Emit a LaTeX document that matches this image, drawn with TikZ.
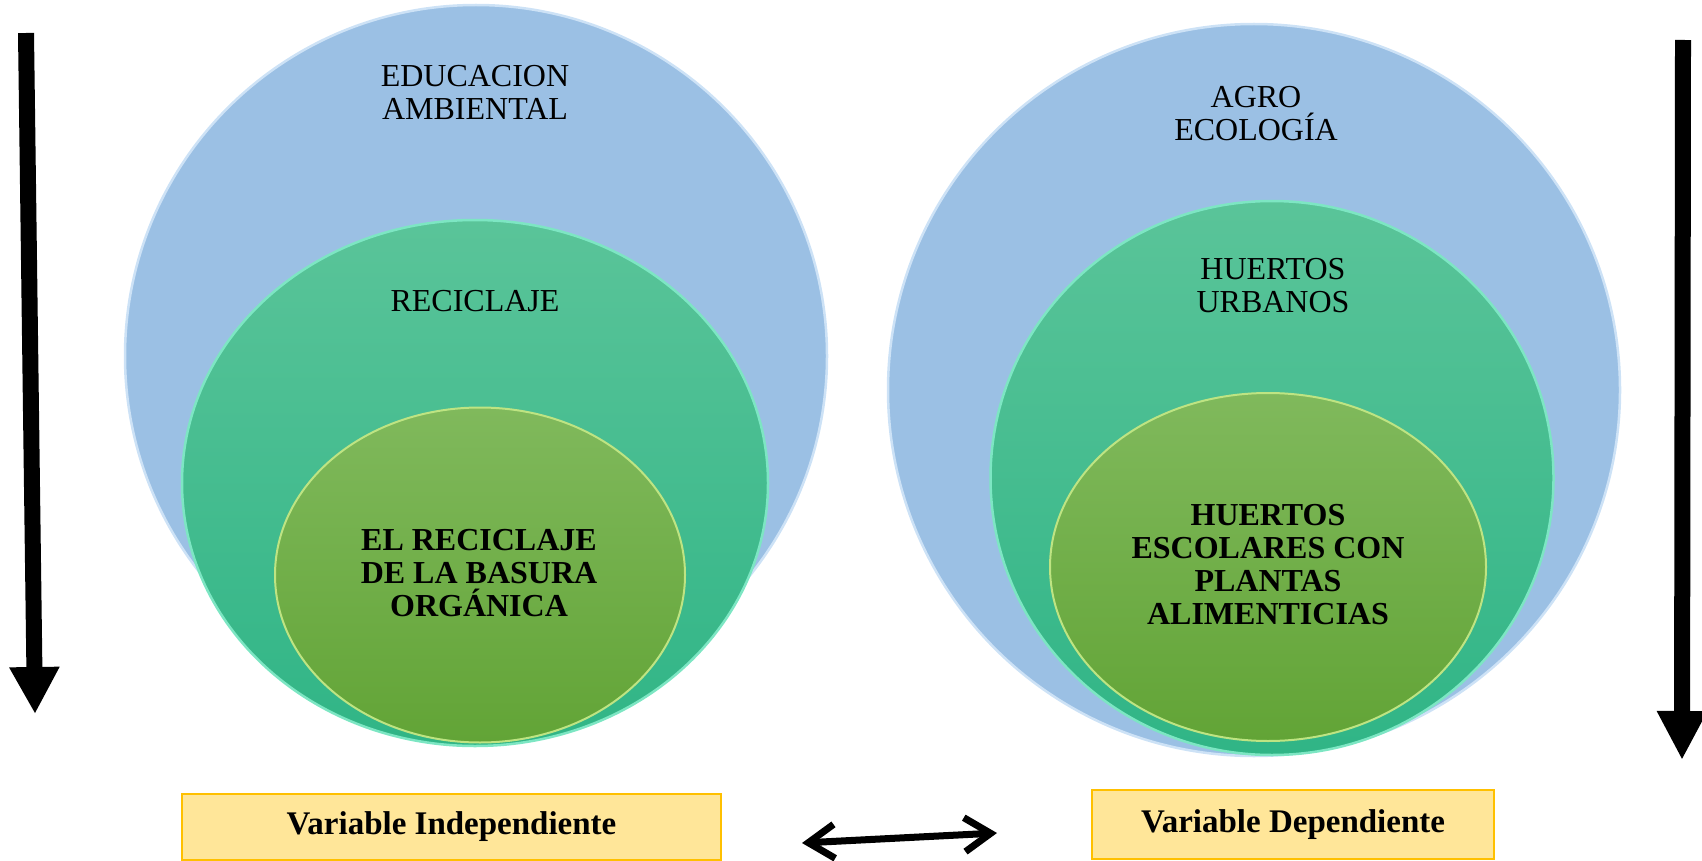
\documentclass[tikz,border=0pt]{standalone}
\usepackage{fontspec}
\setmainfont{Liberation Serif}
\usetikzlibrary{arrows.meta,positioning,shapes.geometric}
\definecolor{outerblue}{RGB}{155,192,228}
\definecolor{outerrim}{RGB}{205,226,246}
\definecolor{midtop}{RGB}{90,196,153}
\definecolor{midbot}{RGB}{48,181,134}
\definecolor{midrim}{RGB}{125,230,195}
\definecolor{intop}{RGB}{128,185,92}
\definecolor{inbot}{RGB}{98,164,54}
\definecolor{inrim}{RGB}{190,228,130}
\definecolor{varfill}{RGB}{255,230,153}
\definecolor{varline}{RGB}{255,192,0}
\tikzset{
  outer/.style={ellipse,inner sep=0pt,fill=outerblue,draw=outerrim,line width=2.5pt},
  middle/.style={ellipse,inner sep=0pt,top color=midtop,bottom color=midbot,draw=midrim,line width=2.5pt},
  inner/.style={ellipse,inner sep=0pt,top color=intop,bottom color=inbot,draw=inrim,line width=2pt},
  lbl/.style={align=center,font=\fontsize{32}{33}\selectfont},
  blbl/.style={align=center,font=\fontsize{32}{33}\selectfont\bfseries},
  varbox/.style={draw=varline,fill=varfill,line width=1.2pt,font=\fontsize{33}{34}\selectfont\bfseries}
}
\begin{document}
\begin{tikzpicture}[x=1pt,y=-1pt,>=Stealth]
\useasboundingbox (0,0) rectangle (1702,861);
% izquierda
\node[outer,minimum width=702pt,minimum height=702pt] (edu) at (476,356) {};
\node[middle,minimum width=586pt,minimum height=526pt] (rec) at (475,483) {};
\node[inner,minimum width=410pt,minimum height=335pt] (bas) at (480,575) {};
\node[lbl] (tedu) at (475,92) {EDUCACION\\AMBIENTAL};
\node[lbl] (trec) at (475,301) {RECICLAJE};
\node[blbl] (tbas) at (479,573) {EL RECICLAJE\\DE LA BASURA\\ORGÁNICA};
% derecha
\node[outer,minimum width=732pt,minimum height=732pt] (agr) at (1254,390) {};
\node[middle,minimum width=563pt,minimum height=554pt] (hur) at (1272,478) {};
\node[inner,minimum width=436pt,minimum height=348pt] (esc) at (1268,567) {};
\node[lbl] (tagr) at (1256,114) {AGRO\\ECOLOGÍA};
\node[lbl] (thur) at (1273,286) {HUERTOS\\URBANOS};
\node[blbl] (tesc) at (1268,565) {HUERTOS\\ESCOLARES CON\\PLANTAS\\ALIMENTICIAS};
% variables
\node[varbox,minimum width=539pt,minimum height=66pt] (vind) at (451.5,827) {Variable Independiente};
\node[varbox,minimum width=402pt,minimum height=69pt] (vdep) at (1293,824.5) {Variable Dependiente};
% flechas
\coordinate (la) at (26,33);
\coordinate (lb) at (35,714);
\coordinate (ra) at (1683,40);
\coordinate (rb) at (1682,760);
\coordinate (da) at (802,843);
\coordinate (db) at (997,833);
\draw[line width=16pt,-{Triangle[width=47pt,length=47pt]}] (la) -- (lb);
\draw[line width=16pt,-{Triangle[width=47pt,length=49pt]}] (ra) -- (rb);
\draw[line width=7pt,line cap=round,{Straight Barb[length=26pt,width=34pt]}-{Straight Barb[length=26pt,width=34pt]}] (da) -- (db);
\end{tikzpicture}
\end{document}
